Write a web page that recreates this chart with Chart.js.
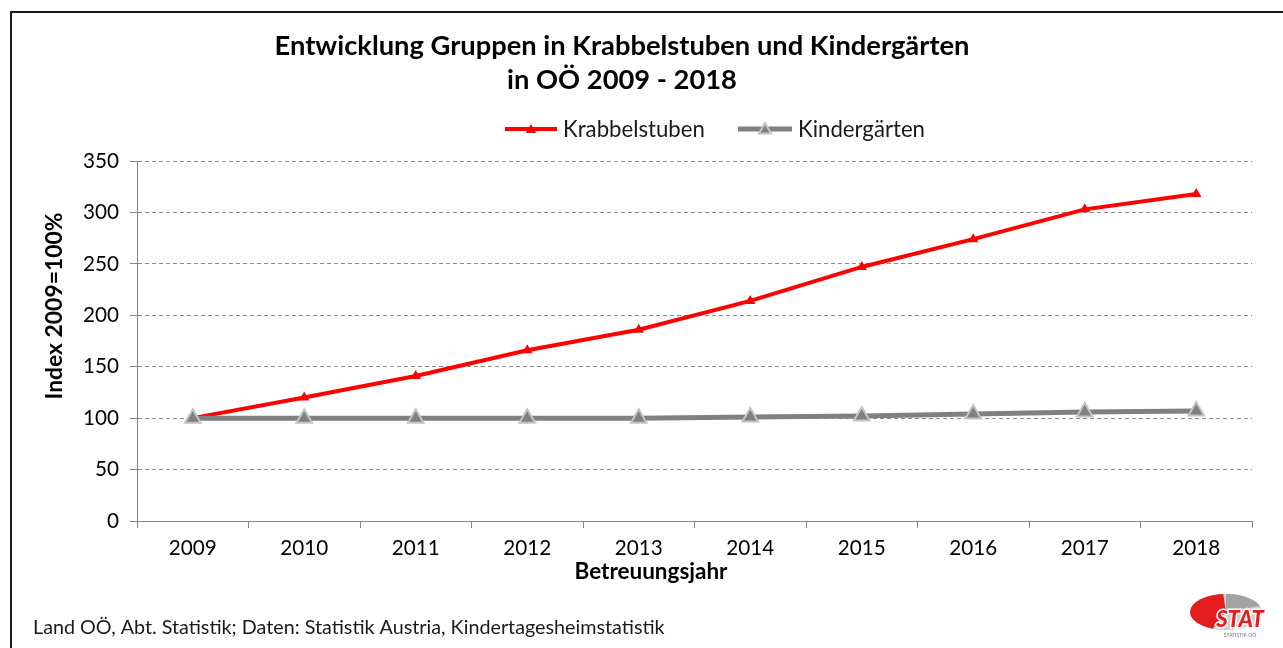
<!DOCTYPE html>
<html>
<head>
<meta charset="utf-8">
<script src="https://cdn.jsdelivr.net/npm/chart.js@4/dist/chart.umd.min.js"></script>
<style>
  html, body { margin:0; padding:0; background:#fff; }
  #wrap { width:1283px; height:648px; }
</style>
</head>
<body>
<div id="wrap"><canvas id="chart" width="1283" height="648"></canvas></div>
<script>
// data
const years = ['2009','2010','2011','2012','2013','2014','2015','2016','2017','2018'];
const krabbelstuben = [100, 120, 141, 166, 186, 214, 247, 274, 303, 318];
const kindergaerten = [100, 100, 100, 100, 100, 101, 102, 104, 106, 107];
const yTicks = [0, 50, 100, 150, 200, 250, 300, 350];

const titleLines = ['Entwicklung Gruppen in Krabbelstuben und Kindergärten', 'in OÖ 2009 - 2018'];
const seriesNames = ['Krabbelstuben', 'Kindergärten'];
const xTitle = 'Betreuungsjahr';
const yTitle = 'Index 2009=100%';
const footer = 'Land OÖ, Abt. Statistik; Daten: Statistik Austria, Kindertagesheimstatistik';

const FONT = 'Lato, "Open Sans", sans-serif';

// pick a font size so a text hits the width it has in the picture
const mctx = document.createElement('canvas').getContext('2d');
function fitSize(text, width, weight){
  mctx.font = `${weight} 100px ${FONT}`;
  return 100 * width / mctx.measureText(text).width;
}
const tickSize = fitSize('2009', 48, 'normal');
const titleSize = fitSize(titleLines[0], 695, 'bold');
const legendSize = fitSize(seriesNames[0], 142, 'normal');
const axisTitleSize = fitSize(xTitle, 153, 'bold');
const yTitleSize = fitSize(yTitle, 187, 'bold');
const footerSize = fitSize(footer, 632, 'normal');

function drawTri(ctx, x, y, r, fill, stroke, bw){
  ctx.beginPath();
  for(let i=0;i<3;i++){
    const a = i*2*Math.PI/3;
    const px = x + Math.sin(a)*r, py = y - Math.cos(a)*r;
    i ? ctx.lineTo(px,py) : ctx.moveTo(px,py);
  }
  ctx.closePath();
  ctx.fillStyle = fill; ctx.fill();
  if(bw){ ctx.lineWidth = bw; ctx.strokeStyle = stroke; ctx.stroke(); }
}

const decor = {
  id:'decor',
  beforeDraw(c){
    const ctx = c.ctx;
    ctx.save();
    ctx.fillStyle = '#fff';
    ctx.fillRect(0,0,c.width,c.height);
    // frame (runs off right/bottom edge)
    ctx.strokeStyle = '#1a1a1a'; ctx.lineWidth = 2;
    ctx.beginPath(); ctx.moveTo(11,648); ctx.lineTo(11,12); ctx.lineTo(1283,12); ctx.stroke();
    ctx.restore();
  },
  afterDraw(c){
    const ctx = c.ctx;
    ctx.save();
    ctx.fillStyle = '#000';
    ctx.textAlign = 'center'; ctx.textBaseline = 'middle';
    ctx.font = `bold ${titleSize}px ${FONT}`;
    ctx.fillText(titleLines[0], 622, 46);
    ctx.fillText(titleLines[1], 622, 80);

    // legend, in the order of seriesNames
    const leg = [{x0:505, x1:557, tx:563}, {x0:738, x1:792, tx:798}];
    ctx.font = `${legendSize}px ${FONT}`;
    ctx.textAlign = 'left';
    leg.forEach((l,i)=>{
      const d = c.data.datasets.find(s => s.label === seriesNames[i]);
      const grey = i === 1;
      ctx.strokeStyle = d.borderColor; ctx.lineWidth = d.borderWidth;
      ctx.beginPath(); ctx.moveTo(l.x0,129); ctx.lineTo(l.x1,129); ctx.stroke();
      drawTri(ctx, (l.x0+l.x1)/2, 130, grey ? 7 : 6, d.pointBackgroundColor, d.pointBorderColor, grey ? 2 : 0);
      ctx.fillStyle = '#1a1a1a';
      ctx.fillText(seriesNames[i], l.tx, 130);
    });

    // axis titles
    ctx.fillStyle = '#000';
    ctx.textAlign = 'center';
    ctx.font = `bold ${axisTitleSize}px ${FONT}`;
    ctx.fillText(xTitle, 651, 572);
    ctx.save();
    ctx.translate(55, 306); ctx.rotate(-Math.PI/2);
    ctx.font = `bold ${yTitleSize}px ${FONT}`;
    ctx.fillText(yTitle, 0, 0);
    ctx.restore();

    // source line
    ctx.textAlign = 'left';
    ctx.fillStyle = '#1a1a1a';
    ctx.font = `${footerSize}px ${FONT}`;
    ctx.fillText(footer, 33, 628);

    // STAT logo
    const lx = 1226, ly = 612;
    ctx.save();
    ctx.beginPath(); ctx.ellipse(lx, ly, 36, 18, 0, 0, 2*Math.PI); ctx.clip();
    ctx.fillStyle = '#cfcfcf'; ctx.fillRect(lx-40, ly-22, 80, 44);
    ctx.fillStyle = '#a3a3a3';
    ctx.beginPath(); ctx.moveTo(lx,ly); ctx.lineTo(lx,ly-25); ctx.lineTo(lx+45,ly-8); ctx.closePath(); ctx.fill();
    ctx.fillStyle = '#e41e1e';
    ctx.beginPath(); ctx.moveTo(lx,ly); ctx.lineTo(lx-4,ly-25); ctx.lineTo(lx-45,ly-25); ctx.lineTo(lx-45,ly+25); ctx.lineTo(lx-20,ly+25); ctx.closePath(); ctx.fill();
    ctx.restore();
    ctx.font = `italic 900 22px ${FONT}`;
    ctx.textAlign = 'center';
    ctx.lineWidth = 3; ctx.strokeStyle = '#fff';
    ctx.strokeText('STAT', 1240, 620);
    ctx.fillStyle = '#e41e1e';
    ctx.fillText('STAT', 1240, 620);
    ctx.font = `5px ${FONT}`;
    ctx.fillStyle = '#777';
    ctx.fillText('STATISTIK OÖ', 1240, 635);
    ctx.restore();
  }
};

new Chart(document.getElementById('chart'), {
  type:'line',
  data:{
    labels: years,
    datasets:[
      { label: seriesNames[0], data: krabbelstuben, borderColor:'#ff0000', borderWidth:4,
        pointStyle:'triangle', pointRadius:6, pointBackgroundColor:'#ff0000',
        pointBorderColor:'#ff0000', pointBorderWidth:0, tension:0, order:2 },
      { label: seriesNames[1], data: kindergaerten, borderColor:'#808080', borderWidth:5,
        pointStyle:'triangle', pointRadius:9, pointBackgroundColor:'#808080',
        pointBorderColor:'#c4c4c4', pointBorderWidth:2, tension:0, order:1 }
    ]
  },
  options:{
    responsive:false,
    animation:false,
    layout:{ padding:{ left:0, top:161, right:31, bottom:0 } },
    plugins:{ legend:{display:false}, title:{display:false}, tooltip:{enabled:false} },
    scales:{
      x:{
        offset:true,
        grid:{ display:true, drawOnChartArea:false, offset:true, tickLength:7, color:'#868686' },
        border:{ color:'#868686', width:1 },
        ticks:{ color:'#000', padding:8, maxRotation:0, font:{ family:FONT, size:tickSize } },
        afterFit: s => { s.height = 648-521; }
      },
      y:{
        min:0, max:350,
        afterBuildTicks: s => { s.ticks = yTicks.map(v=>({value:v})); },
        grid:{ color:'#8c8c8c', tickLength:7, tickColor:'#868686', tickBorderDash:[] },
        border:{ color:'#868686', width:1, dash:[4,3] },
        ticks:{ color:'#000', padding:11, font:{ family:FONT, size:tickSize } },
        afterFit: s => { s.width = 137; }
      }
    }
  },
  plugins:[decor]
});
</script>
</body>
</html>
